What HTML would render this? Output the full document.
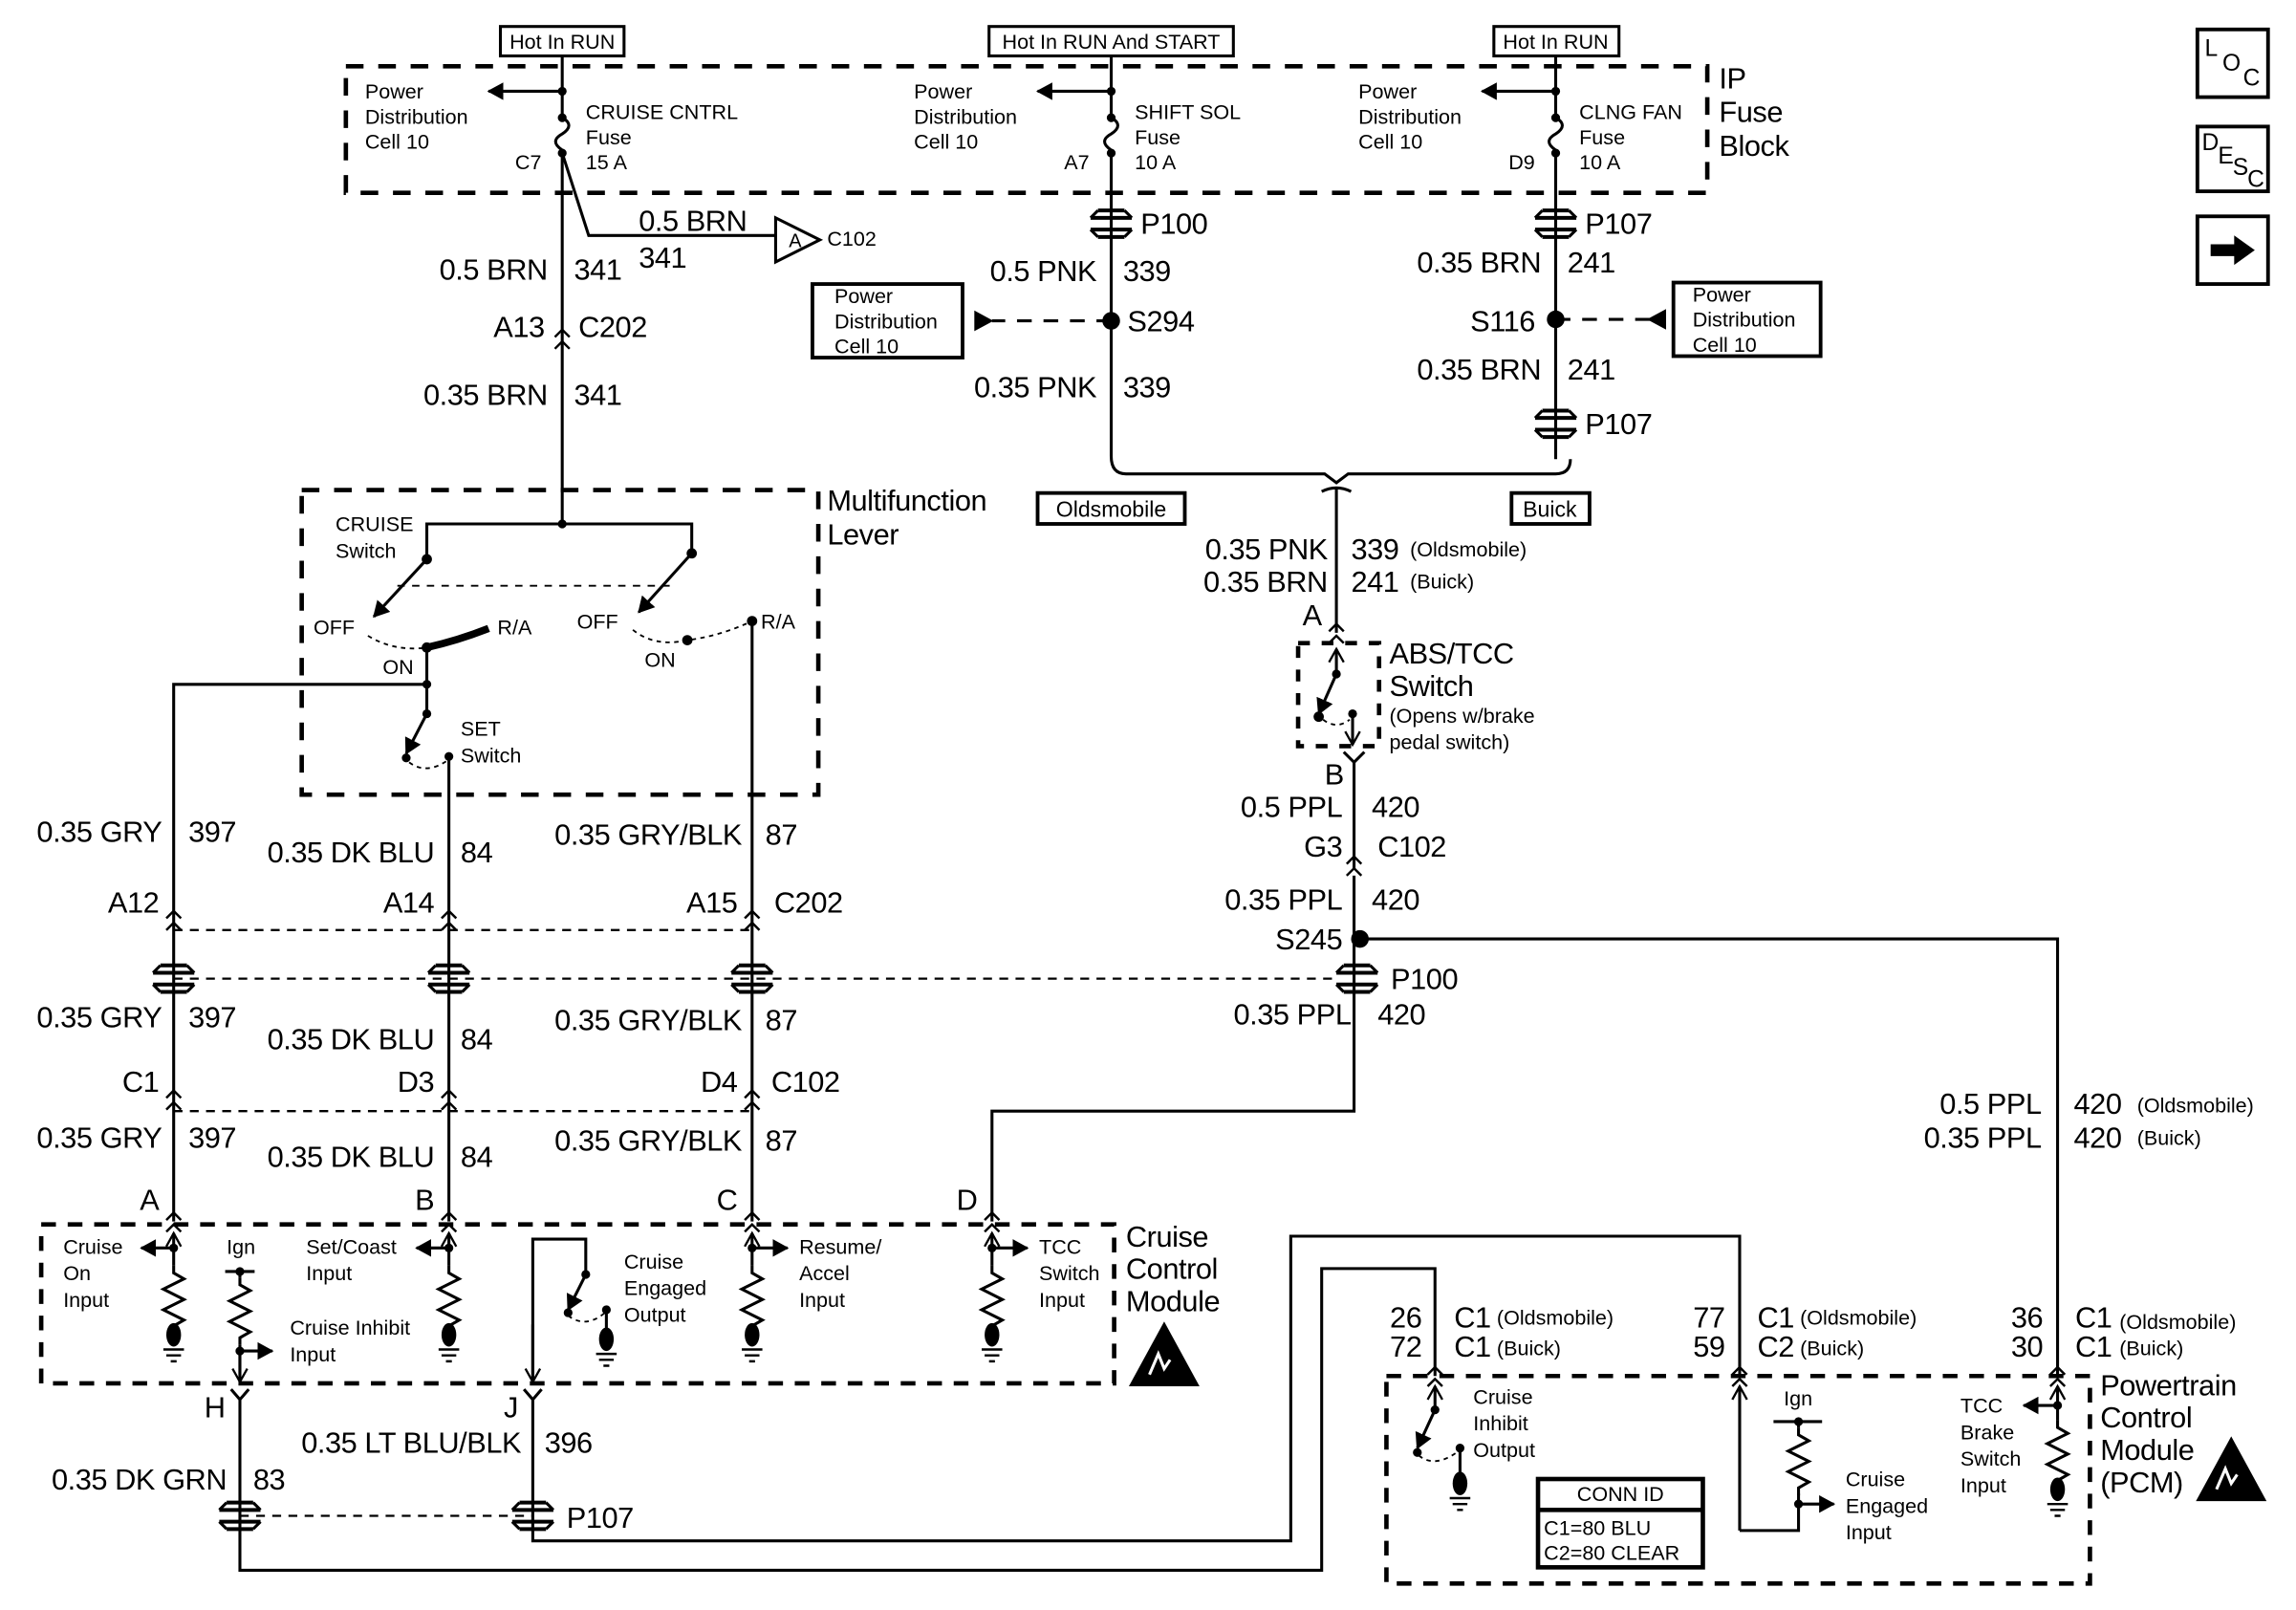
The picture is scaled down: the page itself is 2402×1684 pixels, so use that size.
<!DOCTYPE html>
<html><head><meta charset="utf-8"><style>
html,body{margin:0;padding:0;background:#fff}
svg{display:block}
text{font-family:"Liberation Sans",sans-serif;fill:#000}
.b{font-size:20px;letter-spacing:-0.3px}.s{font-size:14px}.e{text-anchor:end}.m{text-anchor:middle}
</style></head><body>
<svg width="2402" height="1684" viewBox="0 0 1560 1094" preserveAspectRatio="none" xmlns="http://www.w3.org/2000/svg">
<defs>
<marker id="ah" markerUnits="userSpaceOnUse" markerWidth="12" markerHeight="12" refX="10" refY="6" orient="auto"><path d="M0,0 L11,6 L0,12 z" fill="#000"/></marker>
<marker id="ao" markerUnits="userSpaceOnUse" markerWidth="12" markerHeight="12" refX="10" refY="6" orient="auto"><path d="M1,1 L10,6 L1,11" fill="none" stroke="#000" stroke-width="1.5"/></marker>
<g id="cn"><path d="M-5,-3 L0,-8 L5,-3 M-5,5 L0,0 L5,5" fill="none" stroke="#000" stroke-width="1.6"/></g>
<g id="pc"><path d="M-9,-9 H9 M-14,-4 H14 M-14,4 H14 M-9,9 H9" stroke="#000" stroke-width="2.6" fill="none"/><path d="M-14,-4 L-9,-9 M14,-4 L9,-9 M-14,4 L-9,9 M14,4 L9,9" stroke="#000" stroke-width="2" fill="none"/></g>
<g id="rs"><path d="M0,0 l0,5 l7,4 l-14,7 l14,7 l-14,7 l14,7 l-7,4 l0,5" fill="none" stroke="#000" stroke-width="2"/></g>
<g id="gd"><ellipse cx="0" cy="0" rx="5" ry="8" fill="#000"/><path d="M-7,10 H7 M-5,14 H5 M-2,18 H2" stroke="#000" stroke-width="1.6"/></g>
<g id="esd"><path d="M24,0 L48,44 L0,44 z" fill="#000"/><path d="M14,36 l6,-14 l4,10 l4,-6" stroke="#fff" stroke-width="2" fill="none"/></g>
</defs>
<g stroke="#000" fill="none" stroke-width="2">
<rect x="340" y="18" width="84" height="20"/><rect x="672" y="18" width="166" height="20"/><rect x="1015" y="18" width="85" height="20"/>
<rect x="235" y="45" width="925" height="86" stroke-width="3" stroke-dasharray="12 10"/>
<path d="M382,38 V80 q9,5 0,11 q-9,5 0,11 V356"/>
<path d="M755,38 V80 q9,5 0,11 q-9,5 0,11 V310 Q755,322 765,322 H900 L908,328 L916,322 H1057 Q1067,322 1067,312"/>
<path d="M1057,38 V80 q9,5 0,11 q-9,5 0,11 V312"/>
<path d="M382,62 H332" marker-end="url(#ah)"/><path d="M755,62 H705" marker-end="url(#ah)"/><path d="M1057,62 H1007" marker-end="url(#ah)"/>
<path d="M382,104 L400,160 H527"/>
<path d="M527,148 L557,163 L527,178 z"/>
<path d="M755,218 H674" stroke-dasharray="10 8"/>
<path d="M1057,217 H1122" stroke-dasharray="10 8"/>
<rect x="552" y="193" width="102" height="50" stroke-width="2.5"/>
<rect x="1137" y="192" width="100" height="50" stroke-width="2.5"/>
<rect x="705" y="335" width="100" height="21" stroke-width="2.5"/>
<rect x="1027" y="335" width="53" height="21" stroke-width="2.5"/>
<path d="M898,334 Q908,329 918,334 M908,331 V430"/>
<rect x="882" y="437" width="55" height="70" stroke-width="3" stroke-dasharray="8 8"/>
<path d="M908,458 V441" marker-end="url(#ao)"/>
<path d="M908,458 L896,485" marker-end="url(#ah)"/>
<path d="M899,489 Q908,496 917,489" stroke-width="1.2" stroke-dasharray="3 3"/>
<path d="M919,485 V506" marker-end="url(#ao)"/>
<path d="M913,511 L920,518 L927,511 M920,518 V590 M920,595 V755 H674 V830"/>
<path d="M924,638 H1398 V935"/>
<rect x="205" y="333" width="351" height="207" stroke-width="3" stroke-dasharray="12 10"/>
<path d="M290,380 V356 H470 V376"/>
<path d="M290,380 L254,419" marker-end="url(#ah)"/>
<path d="M470,376 L434,416" marker-end="url(#ah)"/>
<path d="M270,398 H455" stroke-width="1.2" stroke-dasharray="5 5"/>
<path d="M250,432 Q268,443 290,440" stroke-width="1.2" stroke-dasharray="3 3"/>
<path d="M290,440 Q312,435 332,427" stroke-width="5"/>
<path d="M430,428 Q445,440 467,435 Q490,432 511,422" stroke-width="1.2" stroke-dasharray="3 3"/>
<path d="M290,440 V485 M290,465 H118 V830"/>
<path d="M290,485 L276,512" marker-end="url(#ah)"/>
<path d="M278,518 Q290,527 305,516" stroke-width="1.2" stroke-dasharray="3 3"/>
<path d="M305,514 V830 M511,422 V830"/>
<path d="M118,632 H511 M118,665 H910 M118,755 H511" stroke-width="1.5" stroke-dasharray="6 5"/>
<rect x="28" y="832" width="729" height="108" stroke-width="3" stroke-dasharray="10 8"/>
<path d="M118,860 V838" marker-end="url(#ao)"/><path d="M118,848 H96" marker-end="url(#ah)"/>
<path d="M305,860 V838" marker-end="url(#ao)"/><path d="M305,848 H283" marker-end="url(#ah)"/>
<path d="M511,860 V838" marker-end="url(#ao)"/><path d="M511,848 H535" marker-end="url(#ah)"/>
<path d="M674,860 V838" marker-end="url(#ao)"/><path d="M674,848 H698" marker-end="url(#ah)"/>
<path d="M153,864 H173 M163,864 V868 M163,914 V939" /><path d="M163,918 V939" marker-end="url(#ao)"/>
<path d="M163,918 H185" marker-end="url(#ah)"/>
<path d="M362,939 V842 H398 V866"/><path d="M362,900 V939" marker-end="url(#ao)"/>
<path d="M398,866 L386,890" marker-end="url(#ah)"/>
<path d="M386,894 Q398,903 411,892" stroke-width="1.2" stroke-dasharray="3 3"/>
<path d="M412,890 V905"/>
<path d="M157,944 L163,951 L169,944 M163,951 V1067 H898 V862 H975 V935"/>
<path d="M356,944 L362,951 L368,944 M362,951 V1047 H877 V840 H1182 V935"/>
<path d="M163,1030 H362" stroke-width="1.5" stroke-dasharray="6 5"/>
<rect x="942" y="935" width="478" height="141" stroke-width="3" stroke-dasharray="10 8"/>
<path d="M975,958 V942" marker-end="url(#ao)"/>
<path d="M975,958 L963,984" marker-end="url(#ah)"/>
<path d="M964,989 Q975,998 991,986" stroke-width="1.2" stroke-dasharray="3 3"/>
<path d="M992,984 V1002"/>
<path d="M1182,1040 V942" marker-end="url(#ao)"/>
<path d="M1182,1040 H1222 V1015 M1205,966 H1238 M1222,966 V970"/>
<path d="M1222,1022 H1246" marker-end="url(#ah)"/>
<rect x="1045" y="1005" width="112" height="60" stroke-width="3"/>
<path d="M1045,1026 H1157" stroke-width="3"/>
<path d="M1398,965 V942" marker-end="url(#ao)"/><path d="M1398,955 H1375" marker-end="url(#ah)"/>
<rect x="1493" y="20" width="48" height="46" stroke-width="2.5"/>
<rect x="1493" y="86" width="48" height="44" stroke-width="2.5"/>
<rect x="1493" y="147" width="48" height="46" stroke-width="2.5"/>
</g>
<path d="M662,211 L675,218 L662,225 z M1132,210 L1119,217 L1132,224 z" fill="#000"/>
<path d="M1502,166 H1518 V160 L1532,170 L1518,180 V174 H1502 z" fill="#000"/>
<g fill="#000">
<circle cx="382" cy="62" r="3"/><circle cx="382" cy="80" r="3"/><circle cx="382" cy="104" r="3"/>
<circle cx="755" cy="62" r="3"/><circle cx="755" cy="80" r="3"/><circle cx="755" cy="104" r="3"/>
<circle cx="1057" cy="62" r="3"/><circle cx="1057" cy="80" r="3"/><circle cx="1057" cy="104" r="3"/>
<circle cx="755" cy="218" r="6"/><circle cx="1057" cy="217" r="6"/><circle cx="924" cy="638" r="6"/>
<circle cx="382" cy="356" r="3"/><circle cx="290" cy="380" r="3.5"/><circle cx="470" cy="376" r="3.5"/>
<circle cx="290" cy="440" r="3.5"/><circle cx="290" cy="465" r="3"/><circle cx="290" cy="485" r="3"/><circle cx="276" cy="515" r="3"/><circle cx="305" cy="514" r="3"/>
<circle cx="467" cy="435" r="3.5"/><circle cx="511" cy="422" r="3.5"/>
<circle cx="908" cy="458" r="3"/><circle cx="896" cy="487" r="3.5"/><circle cx="919" cy="485" r="3"/>
<circle cx="118" cy="848" r="3"/><circle cx="305" cy="848" r="3"/><circle cx="511" cy="848" r="3"/><circle cx="674" cy="848" r="3"/>
<circle cx="163" cy="864" r="3"/><circle cx="163" cy="918" r="3"/><circle cx="398" cy="866" r="3"/><circle cx="386" cy="892" r="3"/><circle cx="412" cy="890" r="3"/>
<circle cx="975" cy="958" r="3"/><circle cx="963" cy="987" r="3"/><circle cx="992" cy="984" r="3"/>
<circle cx="1222" cy="966" r="3"/><circle cx="1222" cy="1022" r="3"/><circle cx="1398" cy="955" r="3"/>
</g>
<use href="#cn" x="382" y="232"/>
<use href="#cn" x="908" y="432"/>
<use href="#cn" x="920" y="590"/>
<use href="#cn" x="118" y="627"/><use href="#cn" x="305" y="627"/><use href="#cn" x="511" y="627"/>
<use href="#cn" x="118" y="749"/><use href="#cn" x="305" y="749"/><use href="#cn" x="511" y="749"/>
<use href="#cn" x="118" y="832"/><use href="#cn" x="305" y="832"/><use href="#cn" x="511" y="832"/><use href="#cn" x="674" y="832"/>
<use href="#cn" x="975" y="937"/><use href="#cn" x="1182" y="937"/><use href="#cn" x="1398" y="937"/>
<use href="#pc" x="755" y="152"/><use href="#pc" x="1057" y="152"/><use href="#pc" x="1057" y="288"/>
<use href="#pc" x="118" y="665"/><use href="#pc" x="305" y="665"/><use href="#pc" x="511" y="665"/><use href="#pc" x="922" y="665"/>
<use href="#pc" x="163" y="1030"/><use href="#pc" x="362" y="1030"/>
<use href="#rs" x="118" y="860"/><use href="#rs" x="305" y="860"/><use href="#rs" x="511" y="860"/><use href="#rs" x="674" y="860"/>
<use href="#rs" x="163" y="868"/><use href="#rs" x="1222" y="970"/><use href="#rs" x="1398" y="965"/>
<use href="#gd" x="118" y="907"/><use href="#gd" x="305" y="907"/><use href="#gd" x="511" y="907"/><use href="#gd" x="674" y="907"/>
<use href="#gd" x="412" y="910"/><use href="#gd" x="992" y="1008"/><use href="#gd" x="1398" y="1012"/>
<use href="#esd" x="767" y="898"/><use href="#esd" x="1492" y="976"/>
<g class="s">
<text x="382" y="33" class="m">Hot In RUN</text><text x="755" y="33" class="m">Hot In RUN And START</text><text x="1057" y="33" class="m">Hot In RUN</text>
<text x="248" y="67">Power</text><text x="248" y="84">Distribution</text><text x="248" y="101">Cell 10</text>
<text x="398" y="81">CRUISE CNTRL</text><text x="398" y="98">Fuse</text><text x="398" y="115">15 A</text><text x="350" y="115">C7</text>
<text x="621" y="67">Power</text><text x="621" y="84">Distribution</text><text x="621" y="101">Cell 10</text>
<text x="771" y="81">SHIFT SOL</text><text x="771" y="98">Fuse</text><text x="771" y="115">10 A</text><text x="723" y="115">A7</text>
<text x="923" y="67">Power</text><text x="923" y="84">Distribution</text><text x="923" y="101">Cell 10</text>
<text x="1073" y="81">CLNG FAN</text><text x="1073" y="98">Fuse</text><text x="1073" y="115">10 A</text><text x="1025" y="115">D9</text>
<text x="536" y="168" font-size="13">A</text><text x="562" y="167">C102</text>
<text x="567" y="206">Power</text><text x="567" y="223">Distribution</text><text x="567" y="240">Cell 10</text>
<text x="1150" y="205">Power</text><text x="1150" y="222">Distribution</text><text x="1150" y="239">Cell 10</text>
<text x="755" y="351" class="m" font-size="15">Oldsmobile</text><text x="1053" y="351" class="m" font-size="15">Buick</text>
<text x="958" y="378">(Oldsmobile)</text><text x="958" y="400">(Buick)</text>
<text x="944" y="491">(Opens w/brake</text><text x="944" y="509">pedal switch)</text>
<text x="228" y="361">CRUISE</text><text x="228" y="379">Switch</text>
<text x="213" y="431">OFF</text><text x="338" y="431">R/A</text><text x="260" y="458">ON</text>
<text x="392" y="427">OFF</text><text x="517" y="427">R/A</text><text x="438" y="453">ON</text>
<text x="313" y="500">SET</text><text x="313" y="518">Switch</text>
<text x="43" y="852">Cruise</text><text x="43" y="870">On</text><text x="43" y="888">Input</text>
<text x="154" y="852">Ign</text>
<text x="208" y="852">Set/Coast</text><text x="208" y="870">Input</text>
<text x="197" y="907">Cruise Inhibit</text><text x="197" y="925">Input</text>
<text x="424" y="862">Cruise</text><text x="424" y="880">Engaged</text><text x="424" y="898">Output</text>
<text x="543" y="852">Resume/</text><text x="543" y="870">Accel</text><text x="543" y="888">Input</text>
<text x="706" y="852">TCC</text><text x="706" y="870">Switch</text><text x="706" y="888">Input</text>
<text x="1017" y="900">(Oldsmobile)</text><text x="1017" y="921">(Buick)</text>
<text x="1223" y="900">(Oldsmobile)</text><text x="1223" y="921">(Buick)</text>
<text x="1440" y="903">(Oldsmobile)</text><text x="1440" y="921">(Buick)</text>
<text x="1452" y="756">(Oldsmobile)</text><text x="1452" y="778">(Buick)</text>
<text x="1001" y="954">Cruise</text><text x="1001" y="972">Inhibit</text><text x="1001" y="990">Output</text>
<text x="1212" y="955">Ign</text>
<text x="1254" y="1010">Cruise</text><text x="1254" y="1028">Engaged</text><text x="1254" y="1046">Input</text>
<text x="1101" y="1020" class="m">CONN ID</text><text x="1049" y="1043">C1=80 BLU</text><text x="1049" y="1060">C2=80 CLEAR</text>
<text x="1332" y="960">TCC</text><text x="1332" y="978">Brake</text><text x="1332" y="996">Switch</text><text x="1332" y="1014">Input</text>
<text x="1498" y="38" font-size="16">L</text><text x="1510" y="48" font-size="16">O</text><text x="1524" y="58" font-size="16">C</text>
<text x="1496" y="102" font-size="16">D</text><text x="1507" y="111" font-size="16">E</text><text x="1517" y="119" font-size="16">S</text><text x="1527" y="127" font-size="16">C</text>
</g>
<g class="b">
<text x="1168" y="60">IP</text><text x="1168" y="83">Fuse</text><text x="1168" y="106">Block</text>
<text x="434" y="157">0.5 BRN</text><text x="434" y="182">341</text>
<text x="372" y="190" class="e">0.5 BRN</text><text x="390" y="190">341</text>
<text x="370" y="229" class="e">A13</text><text x="393" y="229">C202</text>
<text x="372" y="275" class="e">0.35 BRN</text><text x="390" y="275">341</text>
<text x="775" y="159">P100</text>
<text x="745" y="191" class="e">0.5 PNK</text><text x="763" y="191">339</text>
<text x="766" y="225">S294</text>
<text x="745" y="270" class="e">0.35 PNK</text><text x="763" y="270">339</text>
<text x="1077" y="159">P107</text>
<text x="1047" y="185" class="e">0.35 BRN</text><text x="1065" y="185">241</text>
<text x="1043" y="225" class="e">S116</text>
<text x="1047" y="258" class="e">0.35 BRN</text><text x="1065" y="258">241</text>
<text x="1077" y="295">P107</text>
<text x="902" y="380" class="e">0.35 PNK</text><text x="918" y="380">339</text>
<text x="902" y="402" class="e">0.35 BRN</text><text x="918" y="402">241</text>
<text x="885" y="425">A</text>
<text x="944" y="451">ABS/TCC</text><text x="944" y="473">Switch</text>
<text x="900" y="533">B</text>
<text x="912" y="555" class="e">0.5 PPL</text><text x="932" y="555">420</text>
<text x="912" y="582" class="e">G3</text><text x="936" y="582">C102</text>
<text x="912" y="618" class="e">0.35 PPL</text><text x="932" y="618">420</text>
<text x="912" y="645" class="e">S245</text>
<text x="945" y="672">P100</text>
<text x="918" y="696" class="e">0.35 PPL</text><text x="936" y="696">420</text>
<text x="562" y="347">Multifunction</text><text x="562" y="370">Lever</text>
<text x="110" y="572" class="e">0.35 GRY</text><text x="128" y="572">397</text>
<text x="295" y="586" class="e">0.35 DK BLU</text><text x="313" y="586">84</text>
<text x="504" y="574" class="e">0.35 GRY/BLK</text><text x="520" y="574">87</text>
<text x="108" y="620" class="e">A12</text><text x="295" y="620" class="e">A14</text><text x="501" y="620" class="e">A15</text><text x="526" y="620">C202</text>
<text x="110" y="698" class="e">0.35 GRY</text><text x="128" y="698">397</text>
<text x="295" y="713" class="e">0.35 DK BLU</text><text x="313" y="713">84</text>
<text x="504" y="700" class="e">0.35 GRY/BLK</text><text x="520" y="700">87</text>
<text x="108" y="742" class="e">C1</text><text x="295" y="742" class="e">D3</text><text x="501" y="742" class="e">D4</text><text x="524" y="742">C102</text>
<text x="110" y="780" class="e">0.35 GRY</text><text x="128" y="780">397</text>
<text x="295" y="793" class="e">0.35 DK BLU</text><text x="313" y="793">84</text>
<text x="504" y="782" class="e">0.35 GRY/BLK</text><text x="520" y="782">87</text>
<text x="108" y="822" class="e">A</text><text x="295" y="822" class="e">B</text><text x="501" y="822" class="e">C</text><text x="664" y="822" class="e">D</text>
<text x="765" y="847">Cruise</text><text x="765" y="869">Control</text><text x="765" y="891">Module</text>
<text x="1387" y="757" class="e">0.5 PPL</text><text x="1409" y="757">420</text>
<text x="1387" y="780" class="e">0.35 PPL</text><text x="1409" y="780">420</text>
<text x="153" y="963" class="e">H</text><text x="352" y="963" class="e">J</text>
<text x="354" y="987" class="e">0.35 LT BLU/BLK</text><text x="370" y="987">396</text>
<text x="154" y="1012" class="e">0.35 DK GRN</text><text x="172" y="1012">83</text>
<text x="385" y="1038">P107</text>
<text x="966" y="902" class="e">26</text><text x="966" y="922" class="e">72</text><text x="988" y="902">C1</text><text x="988" y="922">C1</text>
<text x="1172" y="902" class="e">77</text><text x="1172" y="922" class="e">59</text><text x="1194" y="902">C1</text><text x="1194" y="922">C2</text>
<text x="1388" y="902" class="e">36</text><text x="1388" y="922" class="e">30</text><text x="1410" y="902">C1</text><text x="1410" y="922">C1</text>
<text x="1427" y="948">Powertrain</text><text x="1427" y="970">Control</text><text x="1427" y="992">Module</text><text x="1427" y="1014">(PCM)</text>
</g>
</svg>
</body></html>
